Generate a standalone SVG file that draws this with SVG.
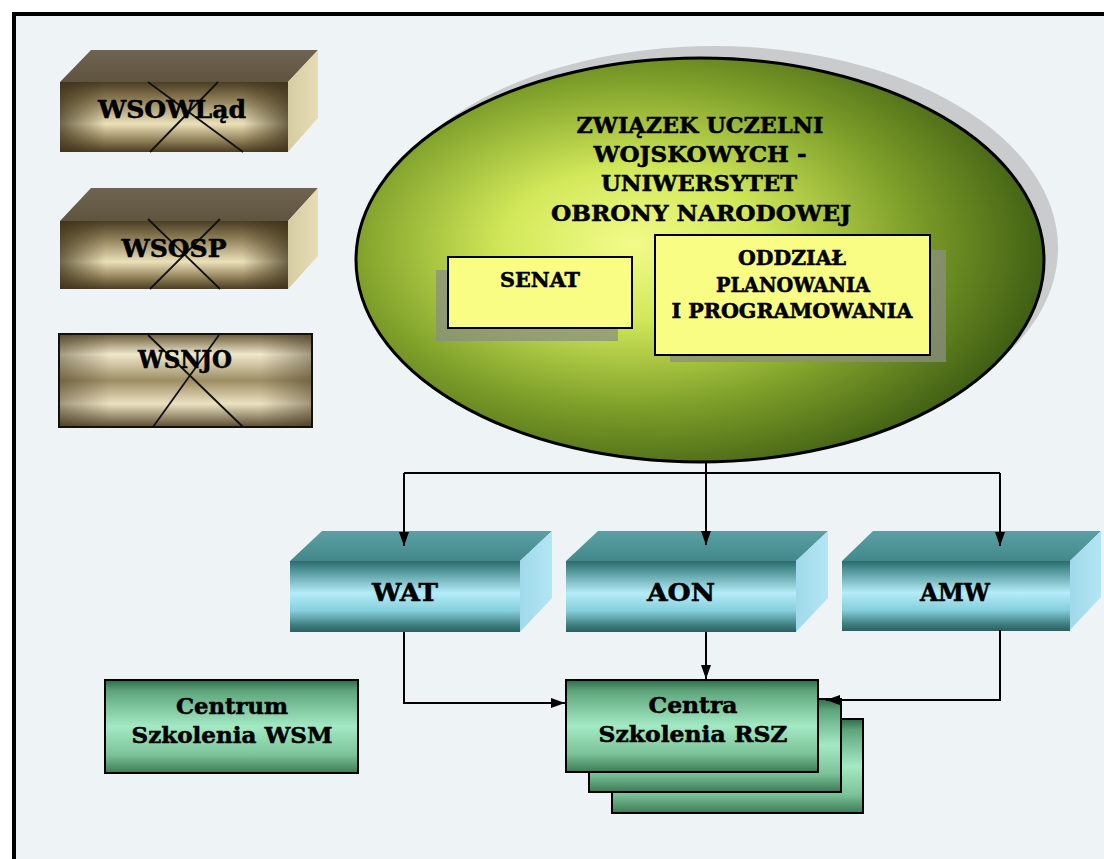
<svg xmlns="http://www.w3.org/2000/svg" width="1104" height="859" viewBox="0 0 1104 859">
<style>
  .t{font-family:"DejaVu Serif","Liberation Serif",serif;font-weight:bold;fill:#000;stroke:#000;stroke-width:0.55;text-anchor:middle}
  .edge{fill:none;stroke:#000;stroke-width:2}
  .cross{stroke:#111;stroke-width:1.8;fill:none}
</style>
<defs>
  <marker id="arr" viewBox="0 0 14 10" refX="14" refY="5" markerWidth="14" markerHeight="10" orient="auto" markerUnits="userSpaceOnUse">
    <path d="M0,0 L14,5 L0,10 Z" fill="#000"/>
  </marker>
  <linearGradient id="brownFront" x1="0" y1="0" x2="0" y2="1">
    <stop offset="0" stop-color="#4a3d22"/>
    <stop offset="0.25" stop-color="#8d7d56"/>
    <stop offset="0.6" stop-color="#ebe0b8"/>
    <stop offset="0.85" stop-color="#8a7a52"/>
    <stop offset="1" stop-color="#4a3d22"/>
  </linearGradient>
  <linearGradient id="brownCyl" x1="0" y1="0" x2="0" y2="1">
    <stop offset="0" stop-color="#6a5b3a"/>
    <stop offset="0.22" stop-color="#f0e8cc"/>
    <stop offset="0.5" stop-color="#9d8d64"/>
    <stop offset="0.75" stop-color="#ece2c2"/>
    <stop offset="1" stop-color="#5b4d30"/>
  </linearGradient>
  <linearGradient id="sideVig" x1="0" y1="0" x2="1" y2="0">
    <stop offset="0" stop-color="#3a2f18" stop-opacity="0.7"/>
    <stop offset="0.2" stop-color="#3a2f18" stop-opacity="0"/>
    <stop offset="0.8" stop-color="#3a2f18" stop-opacity="0"/>
    <stop offset="1" stop-color="#3a2f18" stop-opacity="0.7"/>
  </linearGradient>
  <linearGradient id="brownTop" x1="0" y1="0" x2="0" y2="1">
    <stop offset="0" stop-color="#6e6450"/>
    <stop offset="1" stop-color="#5f5440"/>
  </linearGradient>
  <linearGradient id="brownSide" x1="0" y1="0" x2="1" y2="0">
    <stop offset="0" stop-color="#d6cca0"/>
    <stop offset="1" stop-color="#e6ddb6"/>
  </linearGradient>
  <linearGradient id="cyanFront" x1="0" y1="0" x2="0" y2="1">
    <stop offset="0" stop-color="#2e6a6c"/>
    <stop offset="0.08" stop-color="#3f8587"/>
    <stop offset="0.45" stop-color="#b4ecf8"/>
    <stop offset="0.7" stop-color="#86cfdc"/>
    <stop offset="0.9" stop-color="#3f7f80"/>
    <stop offset="1" stop-color="#2c5f60"/>
  </linearGradient>
  <linearGradient id="cyanTop" x1="0" y1="0" x2="0" y2="1">
    <stop offset="0" stop-color="#5aa1a4"/>
    <stop offset="1" stop-color="#43898c"/>
  </linearGradient>
  <linearGradient id="cyanSide" x1="0" y1="0" x2="1" y2="0">
    <stop offset="0" stop-color="#9fd9ea"/>
    <stop offset="1" stop-color="#b3e6f4"/>
  </linearGradient>
  <linearGradient id="greenFront" x1="0" y1="0" x2="0" y2="1">
    <stop offset="0" stop-color="#2f6a4a"/>
    <stop offset="0.12" stop-color="#5fa57c"/>
    <stop offset="0.5" stop-color="#a3eac4"/>
    <stop offset="0.8" stop-color="#7cc39a"/>
    <stop offset="1" stop-color="#3d7a55"/>
  </linearGradient>
  <radialGradient id="ellFill" cx="0.4" cy="0.46" r="0.62" fx="0.4" fy="0.46">
    <stop offset="0" stop-color="#f2fb8a"/>
    <stop offset="0.3" stop-color="#d2e85a"/>
    <stop offset="0.65" stop-color="#7fa02a"/>
    <stop offset="1" stop-color="#3c5a12"/>
  </radialGradient>
</defs>

<rect x="0" y="0" width="1104" height="859" fill="#ffffff"/>
<rect id="frame" x="14" y="14" width="1104" height="860" fill="#eef3f6" stroke="#000" stroke-width="4"/>

<g id="node-wsowlad">
  <polygon points="60,82 91,50 318,50 288,82" fill="url(#brownTop)"/>
  <polygon points="288,82 318,50 318,118 288,152" fill="url(#brownSide)"/>
  <rect x="60" y="82" width="228" height="70" fill="url(#brownFront)"/>
  <rect x="60" y="82" width="228" height="70" fill="url(#sideVig)"/>
  <line class="cross" x1="148" y1="82" x2="243" y2="152"/>
  <line class="cross" x1="218" y1="82" x2="150" y2="152"/>
  <text class="t" x="172" y="118" font-size="25" textLength="148" lengthAdjust="spacingAndGlyphs">WSOWLąd</text>
</g>

<g id="node-wsosp">
  <polygon points="60,221 91,188 318,188 288,221" fill="url(#brownTop)"/>
  <polygon points="288,221 318,188 318,256 288,289" fill="url(#brownSide)"/>
  <rect x="60" y="221" width="228" height="68" fill="url(#brownFront)"/>
  <rect x="60" y="221" width="228" height="68" fill="url(#sideVig)"/>
  <line class="cross" x1="148" y1="219" x2="220" y2="289"/>
  <line class="cross" x1="220" y1="219" x2="150" y2="289"/>
  <text class="t" x="174" y="257" font-size="25" textLength="105" lengthAdjust="spacingAndGlyphs">WSOSP</text>
</g>

<g id="node-wsnjo">
  <rect x="59" y="334" width="253" height="93" fill="url(#brownCyl)" stroke="#111" stroke-width="2"/>
  <rect x="60" y="335" width="251" height="91" fill="url(#sideVig)" opacity="0.6"/>
  <line class="cross" x1="148" y1="335" x2="243" y2="427"/>
  <line class="cross" x1="219" y1="335" x2="153" y2="427"/>
  <text class="t" x="185" y="368" font-size="24" textLength="94" lengthAdjust="spacingAndGlyphs">WSNJO</text>
</g>

<g id="node-zuw">
  <ellipse cx="714" cy="248" rx="344" ry="202" fill="#c9cbcc"/>
  <ellipse cx="700" cy="260" rx="344" ry="202" fill="url(#ellFill)" stroke="#000" stroke-width="3"/>
  <text class="t" x="700" y="133" font-size="23" textLength="247" lengthAdjust="spacingAndGlyphs">ZWIĄZEK UCZELNI</text>
  <text class="t" x="700" y="162" font-size="23" textLength="213" lengthAdjust="spacingAndGlyphs">WOJSKOWYCH -</text>
  <text class="t" x="699" y="191" font-size="23" textLength="196" lengthAdjust="spacingAndGlyphs">UNIWERSYTET</text>
  <text class="t" x="701" y="221" font-size="23" textLength="300" lengthAdjust="spacingAndGlyphs">OBRONY NARODOWEJ</text>
</g>

<g id="node-senat">
  <rect x="436" y="270" width="182" height="71" fill="#8a8f80" opacity="0.75"/>
  <rect x="448" y="257" width="184" height="71" fill="#f9fd84" stroke="#000" stroke-width="2"/>
  <text class="t" x="540" y="287" font-size="20" textLength="80" lengthAdjust="spacingAndGlyphs">SENAT</text>
</g>

<g id="node-oddzial">
  <rect x="670" y="250" width="276" height="112" fill="#8a8f80" opacity="0.75"/>
  <rect x="655" y="235" width="275" height="120" fill="#f9fd84" stroke="#000" stroke-width="2"/>
  <text class="t" x="792" y="265" font-size="20" textLength="108" lengthAdjust="spacingAndGlyphs">ODDZIAŁ</text>
  <text class="t" x="793" y="292" font-size="20" textLength="154" lengthAdjust="spacingAndGlyphs">PLANOWANIA</text>
  <text class="t" x="792" y="318" font-size="20" textLength="241" lengthAdjust="spacingAndGlyphs">I PROGRAMOWANIA</text>
</g>

<g id="node-wat">
  <polygon points="290,561 322,531 552,531 520,561" fill="url(#cyanTop)"/>
  <polygon points="520,561 552,531 552,598 520,632" fill="url(#cyanSide)"/>
  <rect x="290" y="561" width="230" height="71" fill="url(#cyanFront)"/>
  <text class="t" x="405" y="601" font-size="25" textLength="66" lengthAdjust="spacingAndGlyphs">WAT</text>
</g>

<g id="node-aon">
  <polygon points="566,561 598,531 828,531 796,561" fill="url(#cyanTop)"/>
  <polygon points="796,561 828,531 828,598 796,632" fill="url(#cyanSide)"/>
  <rect x="566" y="561" width="230" height="71" fill="url(#cyanFront)"/>
  <text class="t" x="681" y="601" font-size="25" textLength="68" lengthAdjust="spacingAndGlyphs">AON</text>
</g>

<g id="node-amw">
  <polygon points="842,561 873,531 1101,531 1070,561" fill="url(#cyanTop)"/>
  <polygon points="1070,561 1101,531 1101,597 1070,630" fill="url(#cyanSide)"/>
  <rect x="842" y="561" width="228" height="70" fill="url(#cyanFront)"/>
  <text class="t" x="955" y="601" font-size="25" textLength="70" lengthAdjust="spacingAndGlyphs">AMW</text>
</g>

<g id="node-wsm">
  <rect x="105" y="680" width="253" height="93" fill="url(#greenFront)" stroke="#000" stroke-width="2"/>
  <text class="t" x="232" y="714" font-size="23" textLength="112" lengthAdjust="spacingAndGlyphs">Centrum</text>
  <text class="t" x="232" y="743" font-size="23" textLength="201" lengthAdjust="spacingAndGlyphs">Szkolenia WSM</text>
</g>

<g id="node-rsz">
  <rect x="612" y="719" width="251" height="94" fill="url(#greenFront)" stroke="#000" stroke-width="2"/>
  <rect x="589" y="699" width="252" height="93" fill="url(#greenFront)" stroke="#000" stroke-width="2"/>
  <rect x="566" y="680" width="252" height="92" fill="url(#greenFront)" stroke="#000" stroke-width="2"/>
  <text class="t" x="693" y="713" font-size="23" textLength="89" lengthAdjust="spacingAndGlyphs">Centra</text>
  <text class="t" x="693" y="742" font-size="23" textLength="189" lengthAdjust="spacingAndGlyphs">Szkolenia RSZ</text>
</g>

<g id="connectors">
  <path class="edge" d="M706,461 V545" marker-end="url(#arr)"/>
  <path class="edge" d="M404,473 H1000"/>
  <path class="edge" d="M404,473 V546" marker-end="url(#arr)"/>
  <path class="edge" d="M1000,473 V546" marker-end="url(#arr)"/>
  <path class="edge" d="M404,632 V703 H565" marker-end="url(#arr)"/>
  <path class="edge" d="M706,632 V679" marker-end="url(#arr)"/>
  <path class="edge" d="M1000,630 V700 H826" marker-end="url(#arr)"/>
</g>
</svg>
